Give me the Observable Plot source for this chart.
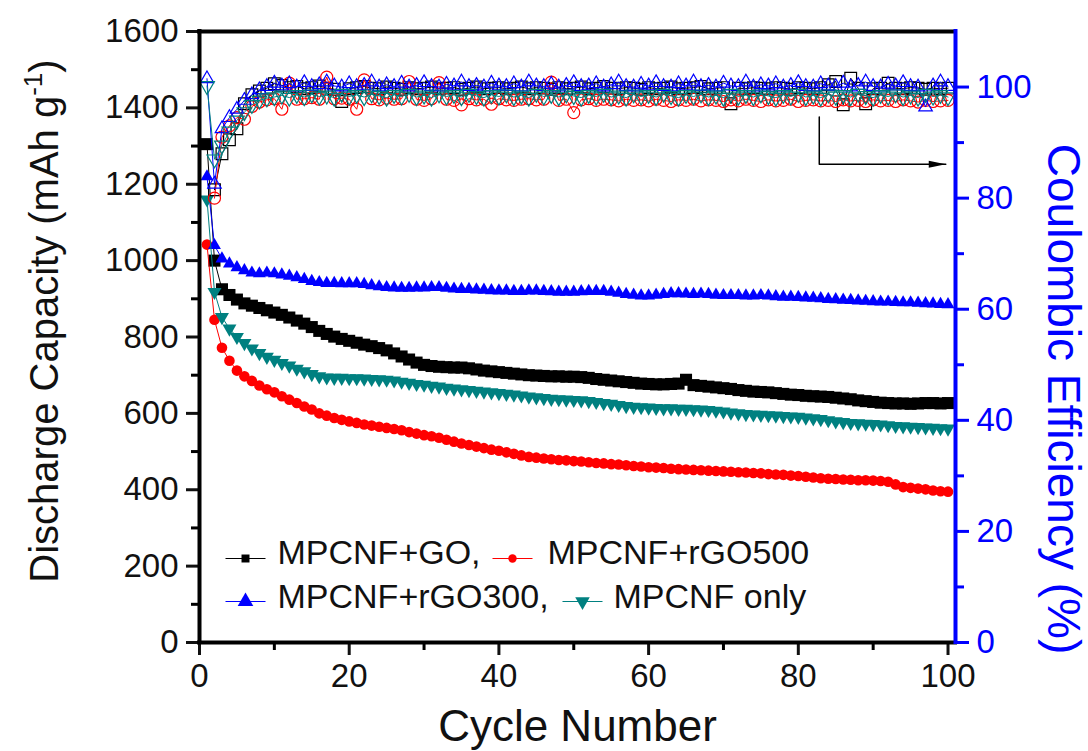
<!DOCTYPE html>
<html><head><meta charset="utf-8">
<script src="https://cdn.jsdelivr.net/npm/d3@7"></script>
<script src="https://cdn.jsdelivr.net/npm/@observablehq/plot@0.6"></script>
<style>
html,body{margin:0;padding:0;background:#fff;}
#chart svg{display:block;}
</style></head><body><div id="chart"></div>
<script>
// ---------- data ----------
const seriesNames = ["MPCNF+GO", "MPCNF+rGO500", "MPCNF+rGO300", "MPCNF only"];
const legendLabels = ["MPCNF+GO,", "MPCNF+rGO500", "MPCNF+rGO300,", "MPCNF only"];
const cycles = Array.from({length: 100}, (_, i) => i + 1);

const capGO = [1305,1000,925,910,898,888,882,876,870,864,858,851,843,835,826,816,808,801,795,790,
785,780,776,771,765,757,749,741,733,727,724,722,721,720,720,718,715,712,710,708,
706,704,702,700,699,698,697,697,696,696,695,693,690,688,686,684,682,680,678,677,
676,676,677,678,688,674,672,670,668,666,664,661,659,657,656,655,653,651,649,648,
646,645,644,643,641,639,637,634,632,630,628,627,626,626,625,626,627,627,626,627];
const capR500 = [1042,845,772,738,712,697,685,673,663,655,645,636,627,618,610,600,594,588,583,579,
575,571,568,565,562,559,556,551,547,543,540,536,531,526,521,517,513,509,505,502,
498,494,490,486,484,482,480,478,477,475,474,472,470,469,467,466,464,462,461,459,
458,457,455,454,453,452,451,450,449,448,447,446,445,444,443,441,440,439,437,436,
434,432,430,429,428,427,426,425,425,424,423,421,414,407,405,403,401,398,396,395];
const capR300 = [1220,1040,1005,992,982,974,968,966,968,966,963,960,956,951,946,943,941,941,940,940,
940,938,935,932,930,929,928,928,929,929,930,930,928,926,925,925,924,923,922,921,
921,920,920,921,921,920,919,918,918,918,919,920,920,920,918,915,912,910,908,908,
910,912,914,914,913,912,913,912,910,909,909,909,908,908,909,908,906,905,905,904,
903,902,901,899,898,897,896,895,894,893,892,892,891,890,890,889,888,887,886,885];
const capOnly = [1160,918,852,822,800,784,770,758,748,740,732,725,717,710,703,697,694,693,693,692,
692,691,690,689,688,686,683,680,677,675,672,670,667,665,663,661,659,657,655,653,
651,649,647,644,642,640,638,637,636,635,634,632,630,627,625,622,619,617,616,615,
614,613,613,612,612,611,610,609,607,605,602,600,598,597,596,595,594,593,592,591,
589,587,585,582,579,577,575,574,573,572,571,569,567,566,565,564,563,562,561,560];

const ceGO = [null,81.5,88,90.5,92.5,97,98.6,99.3,99.8,100.6,100.3,99.9,100.1,99.7,99.9,100.2,99.8,99.6,97.4,99.7,
99.9,100.1,99.8,99.7,100.0,99.8,99.6,99.9,99.7,99.8,100.0,99.7,99.8,99.9,99.6,99.8,100.0,99.7,99.8,99.9,
99.7,99.8,100.0,99.7,99.9,99.8,99.6,99.9,99.7,99.8,100.0,99.7,99.8,100.1,99.8,99.7,99.9,99.8,99.6,99.9,
99.7,99.8,100.0,99.7,99.8,99.9,100.1,99.7,99.8,99.9,97.0,99.8,99.7,99.9,99.8,99.7,99.9,99.8,99.6,99.9,
99.8,99.7,99.9,100.4,101.0,96.8,101.6,99.8,97.0,99.7,99.8,100.7,99.8,99.7,99.9,99.8,99.6,99.8,99.7,99.8];
const ceR500 = [null,80,91,93,94.5,94.2,96.5,97.3,97.7,97.9,96.0,100.7,97.8,97.9,98.1,97.8,101.8,97.9,98.0,97.8,
96.0,101.3,97.9,97.7,98.0,97.8,97.9,101.0,97.8,97.6,97.9,100.8,97.8,97.6,96.8,97.9,97.7,97.8,96.9,97.9,
97.7,97.6,97.8,97.9,97.7,97.8,100.9,97.6,97.8,95.4,97.7,97.9,97.6,97.8,97.7,97.5,97.8,97.6,97.7,97.5,
97.8,97.6,97.4,97.7,97.6,97.8,97.5,97.7,97.6,97.4,97.7,97.5,97.8,97.6,97.4,97.7,97.5,97.6,97.8,97.4,
97.6,97.7,97.5,97.6,97.4,97.7,97.5,97.6,97.4,97.7,97.5,97.6,97.4,97.7,97.5,97.3,97.6,97.4,97.5,97.6];
const ceR300 = [101.5,82.5,92.5,94.5,96,97.6,98.6,99.5,100.1,100.7,100.2,100.6,100.0,100.8,100.1,100.4,100.9,100.2,100.0,100.6,
100.1,100.3,100.9,100.0,100.4,100.1,100.7,100.0,100.3,100.8,100.1,100.0,100.5,100.2,100.9,100.1,100.3,100.0,100.7,100.2,
100.1,100.6,100.0,100.9,100.2,100.1,100.5,100.0,100.3,100.8,100.1,100.2,100.6,100.0,100.4,100.9,100.1,100.0,100.5,100.2,
100.8,100.1,100.0,100.6,100.2,100.9,100.1,100.3,100.0,100.7,100.2,100.1,100.9,100.0,100.4,100.2,100.6,100.0,100.3,100.8,
100.1,100.0,100.6,100.2,100.1,100.7,100.0,100.3,100.9,100.1,100.0,100.5,100.2,100.8,100.1,100.0,96.4,100.2,100.9,100.1];
const ceOnly = [100.2,87,89.5,92,94,95.5,96.8,97.6,98.0,98.2,98.5,98.1,98.6,98.2,98.7,98.3,98.5,98.1,98.8,98.3,
98.6,98.2,98.7,98.4,98.1,98.6,98.3,98.8,98.2,98.5,98.1,98.7,98.3,98.6,98.2,98.8,98.4,98.1,98.6,98.3,
98.7,98.2,98.5,98.1,98.8,98.3,98.6,98.2,98.7,98.4,98.1,98.6,98.3,98.8,98.2,98.5,98.1,98.7,98.3,98.6,
98.2,98.8,98.4,98.1,98.6,98.3,98.7,98.2,98.5,98.1,98.8,98.3,98.6,98.2,98.7,98.4,98.1,98.6,98.3,98.8,
98.2,98.5,98.1,98.7,98.3,98.6,98.2,98.8,98.4,98.1,98.6,98.3,98.7,98.2,98.5,98.1,98.8,98.3,98.6,98.2];

const capTicks = [0, 200, 400, 600, 800, 1000, 1200, 1400, 1600];
const capMinorTicks = [100, 300, 500, 700, 900, 1100, 1300, 1500];
const cycleTicks = [0, 20, 40, 60, 80, 100];
const cycleMinorTicks = [10, 30, 50, 70, 90];
const ceTicks = [0, 20, 40, 60, 80, 100];
const ceMinorTicks = [10, 30, 50, 70, 90];
// arrow annotation pointing to the right axis (cycle, CE %)
const arrowPath = [[82.8, 94.6], [82.8, 86.1], [99.7, 86.1]];

// ---------- layout / style ----------
const W = 1088, H = 751;
const mL = 199, mR = 133, mT = 31, mB = 109;
const CAP_MAX = 1600, CE_MAX = 110, X_MAX = 101;
const k = CAP_MAX / CE_MAX;
const toY = v => v * k;

const styles = [
  {color: "#000000", symbol: "square",   rotate: 0,   r: 6.8, ro: 6.6, lr: 4.5},
  {color: "#ff0000", symbol: "circle",   rotate: 0,   r: 5.3, ro: 6.0, lr: 4.2},
  {color: "#0000ff", symbol: "triangle", rotate: 0,   r: 4.8, ro: 5.0, lr: 5.8},
  {color: "#008080", symbol: "triangle", rotate: 180, r: 5.2, ro: 5.5, lr: 5.4}
];
const capAll = [capGO, capR500, capR300, capOnly];
const ceAll = [ceGO, ceR500, ceR300, ceOnly];

const marks = [];
// capacity series (filled)
capAll.forEach((arr, i) => {
  const s = styles[i];
  const data = arr.map((v, j) => ({cycle: cycles[j], value: v}));
  marks.push(Plot.line(data, {x: "cycle", y: "value", stroke: s.color, strokeWidth: 1}));
  marks.push(Plot.dot(data, {x: "cycle", y: "value", symbol: s.symbol, rotate: s.rotate, r: s.r, fill: s.color, stroke: "none"}));
});
// coulombic efficiency series (open)
ceAll.forEach((arr, i) => {
  const s = styles[i];
  const data = arr.map((v, j) => ({cycle: cycles[j], value: v})).filter(d => d.value != null);
  marks.push(Plot.line(data, {x: "cycle", y: d => toY(d.value), stroke: s.color, strokeWidth: 1}));
  marks.push(Plot.dot(data, {x: "cycle", y: d => toY(d.value), symbol: s.symbol, rotate: s.rotate, r: s.ro, fill: "none", stroke: s.color, strokeWidth: 1.2}));
});

// arrow annotation
marks.push(Plot.line(arrowPath, {x: d => d[0], y: d => toY(d[1]), stroke: "black", strokeWidth: 1.5}));
const arrowHead = {draw(ctx) { ctx.moveTo(0, 0); ctx.lineTo(-17, -3.5); ctx.lineTo(-17, 3.5); ctx.closePath(); }};
marks.push(Plot.dot([arrowPath[arrowPath.length - 1]], {x: d => d[0], y: d => toY(d[1]), symbol: arrowHead, fill: "black", stroke: "none", r: 1}));

// legend (inside plot, pixel offsets from the frame's top-left)
const segment = {draw(ctx) { ctx.moveTo(-20, 0); ctx.lineTo(20, 0); }};
const legendPos = [
  {mx: 46, tx: 78, row: 0}, {mx: 313, tx: 348, row: 0},
  {mx: 46, tx: 78, row: 1}, {mx: 383, tx: 414, row: 1}
];
const rowMarkDy = [527, 570], rowTextDy = [522, 566];
legendPos.forEach((p, i) => {
  const s = styles[i];
  marks.push(Plot.dot([0], {frameAnchor: "top-left", dx: p.mx, dy: rowMarkDy[p.row], symbol: segment, r: 1, stroke: s.color, fill: "none", strokeWidth: 1.2}));
  marks.push(Plot.dot([0], {frameAnchor: "top-left", dx: p.mx, dy: rowMarkDy[p.row], symbol: s.symbol, rotate: s.rotate, r: s.lr, fill: s.color, stroke: "none"}));
  marks.push(Plot.text([legendLabels[i]], {frameAnchor: "top-left", dx: p.tx, dy: rowTextDy[p.row], text: d => d, textAnchor: "start", lineAnchor: "middle", fontSize: 34, fill: "#111"}));
});

// axes
marks.push(
  Plot.axisY(capTicks, {anchor: "left", tickSize: 13, tickPadding: 8, strokeWidth: 3, fontSize: 33, tickFormat: d => String(d), label: null, color: "#111"}),
  Plot.axisY(capMinorTicks, {anchor: "left", tickSize: 8, strokeWidth: 3, tickFormat: () => "", label: null}),
  Plot.axisX(cycleTicks, {anchor: "bottom", tickSize: 13, tickPadding: 8, strokeWidth: 3, fontSize: 33, tickFormat: d => String(d), label: null, color: "#111"}),
  Plot.axisX(cycleMinorTicks, {anchor: "bottom", tickSize: 8, strokeWidth: 3, tickFormat: () => "", label: null}),
  Plot.axisY(ceTicks.map(toY), {anchor: "right", tickSize: 13, tickPadding: 8, strokeWidth: 3, fontSize: 33, tickFormat: d => String(Math.round(d / k)), label: null, color: "#0000ff"}),
  Plot.axisY(ceMinorTicks.map(toY), {anchor: "right", tickSize: 8, strokeWidth: 3, tickFormat: () => "", label: null, color: "#0000ff"})
);

// frame
marks.push(
  Plot.ruleY([0, CAP_MAX], {stroke: "black", strokeWidth: 4, strokeLinecap: "square"}),
  Plot.ruleX([0], {stroke: "black", strokeWidth: 4, strokeLinecap: "square"}),
  Plot.ruleX([X_MAX], {stroke: "#0000ff", strokeWidth: 4, strokeLinecap: "square"})
);

// axis titles
marks.push(
  Plot.text(["Discharge Capacity (mAh g"], {frameAnchor: "left", dx: -154, dy: -16, rotate: -90, text: d => d, textAnchor: "middle", lineAnchor: "middle", fontSize: 40, fill: "#111"}),
  Plot.text(["Coulombic Efficiency (%)"], {frameAnchor: "right", dx: 107, dy: 62, rotate: 90, text: d => d, textAnchor: "middle", lineAnchor: "middle", fontSize: 46, fill: "#0000ff"}),
  Plot.text(["Cycle Number"], {frameAnchor: "bottom", dx: 0, dy: 84, text: d => d, textAnchor: "middle", lineAnchor: "middle", fontSize: 44, fill: "#111"})
);

const chart = Plot.plot({
  width: W, height: H,
  marginLeft: mL, marginRight: mR, marginTop: mT, marginBottom: mB,
  x: {domain: [0, X_MAX]},
  y: {domain: [0, CAP_MAX]},
  style: {fontFamily: "'Liberation Sans', Arial, sans-serif", background: "white", overflow: "visible"},
  marks
});
document.getElementById("chart").appendChild(chart);

// superscript in the left title
chart.querySelectorAll("text").forEach(t => {
  if (t.textContent === "Discharge Capacity (mAh g") {
    const ns = "http://www.w3.org/2000/svg";
    const sup = document.createElementNS(ns, "tspan");
    sup.setAttribute("font-size", "26");
    sup.setAttribute("dy", "-16");
    sup.textContent = "-1";
    const close = document.createElementNS(ns, "tspan");
    close.setAttribute("dy", "16");
    close.textContent = ")";
    t.appendChild(sup);
    t.appendChild(close);
  }
});
</script></body></html>
